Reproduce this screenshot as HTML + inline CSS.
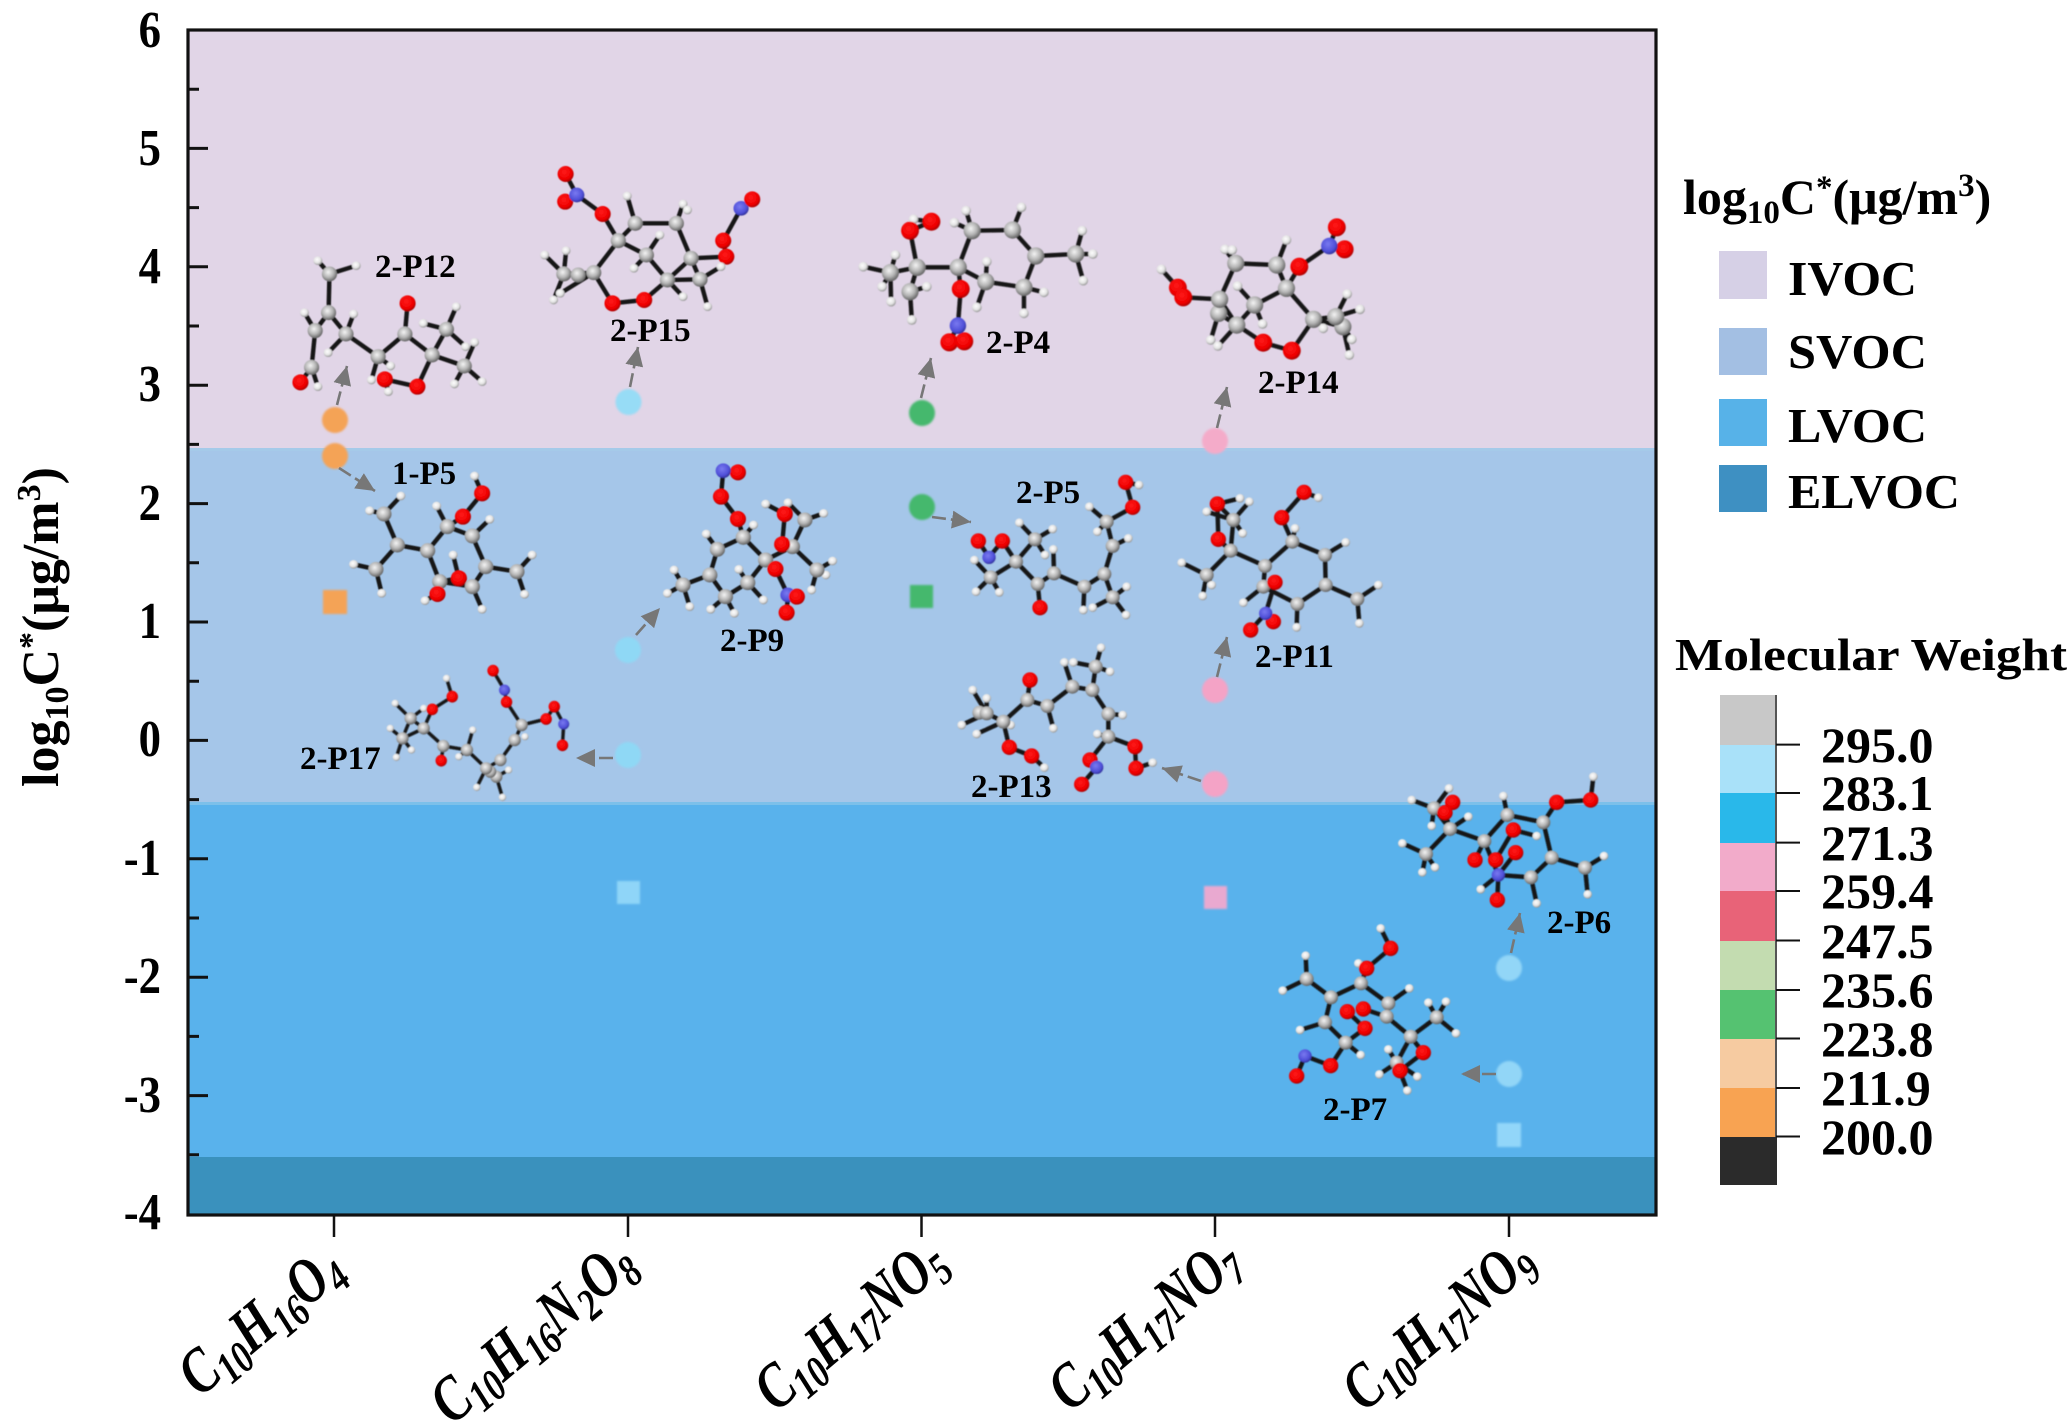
<!DOCTYPE html>
<html><head><meta charset="utf-8"><title>log10C* diagram</title>
<style>
html,body{margin:0;padding:0;background:#fff}
svg{display:block}
text{font-family:"Liberation Serif",serif;font-weight:bold;fill:#000}
.bd{fill:none;stroke:#151515;stroke-width:4.4;stroke-linecap:round;vector-effect:non-scaling-stroke}
.C{fill:url(#gC)}.H{fill:url(#gH)}.O{fill:url(#gO)}.N{fill:url(#gN)}
.a .C{rx:17px;ry:22.5px}.a .O{rx:18px;ry:24px}.a .H{rx:10px;ry:13px}.a .N{rx:17px;ry:22px}
.b .C{rx:24px;ry:26px}.b .O{rx:25px;ry:27px}.b .H{rx:13.5px;ry:14.5px}.b .N{rx:23px;ry:25px}
.c .C{rx:21px;ry:21px}.c .O{rx:23px;ry:23px}.c .H{rx:13px;ry:13px}.c .N{rx:20px;ry:20px}
.d .C{rx:15px;ry:18.5px}.d .O{rx:14px;ry:17.5px}.d .H{rx:9px;ry:11px}.d .N{rx:13.5px;ry:16.5px}
.d .bd{stroke-width:3.4}
.lb{font-size:33px}
.ar{stroke:#777;stroke-width:2.6;stroke-dasharray:14 5;fill:none;marker-end:url(#ah)}
.yt{font-size:52px;text-anchor:end}
.cb{font-size:50px}
.lg{font-size:49px}
.xl{font-size:50px;font-style:italic}
</style></head><body>
<svg xmlns="http://www.w3.org/2000/svg" width="2067" height="1425" viewBox="0 0 2067 1425">
<defs>
<radialGradient id="gC" cx=".42" cy=".38" r=".65"><stop offset="0" stop-color="#f4f4f4"/><stop offset=".55" stop-color="#b4b4b4"/><stop offset="1" stop-color="#5c5c5c"/></radialGradient>
<radialGradient id="gH" cx=".42" cy=".38" r=".65"><stop offset="0" stop-color="#fff"/><stop offset=".6" stop-color="#e2e2e2"/><stop offset="1" stop-color="#8a8a8a"/></radialGradient>
<radialGradient id="gO" cx=".42" cy=".38" r=".65"><stop offset="0" stop-color="#ff1a1a"/><stop offset=".7" stop-color="#ee0000"/><stop offset="1" stop-color="#a00000"/></radialGradient>
<radialGradient id="gN" cx=".42" cy=".38" r=".65"><stop offset="0" stop-color="#7a7af0"/><stop offset=".7" stop-color="#4f4fd8"/><stop offset="1" stop-color="#2d2d90"/></radialGradient>
<marker id="ah" markerUnits="userSpaceOnUse" markerWidth="20" markerHeight="18" refX="19" refY="9" orient="auto"><path d="M0 0L19 9L0 18z" fill="#777"/></marker>
<filter id="bl" x="-30%" y="-30%" width="160%" height="160%"><feGaussianBlur stdDeviation="1"/></filter>
<filter id="bl2" filterUnits="userSpaceOnUse" x="188" y="30" width="1468" height="1185"><feGaussianBlur stdDeviation=".55"/></filter>
</defs>

<!-- plot bands -->
<rect x="188" y="30" width="1468" height="418" fill="#e1d5e7"/>
<rect x="188" y="448" width="1468" height="355" fill="#a5c6e9"/>
<rect x="188" y="803" width="1468" height="354" fill="#59b2ec"/>
<rect x="188" y="1157" width="1468" height="58" fill="#3a91bd"/>
<rect x="188" y="448" width="1468" height="3" fill="#a5cdea" opacity=".6"/>
<rect x="188" y="802" width="1468" height="3" fill="#7cc0ea"/>

<!-- ticks -->
<path d="M188 30h20M188 148.400h20M188 266.800h20M188 385.200h20M188 503.600h20M188 622h20M188 740.400h20M188 858.800h20M188 977.200h20M188 1095.600h20M188 89.200h11M188 207.600h11M188 326h11M188 444.400h11M188 562.800h11M188 681.200h11M188 799.600h11M188 918h11M188 1036.400h11M188 1154.800h11" stroke="#111" stroke-width="3" fill="none"/>
<path d="M334 1215v22M628 1215v22M921.500 1215v22M1215 1215v22M1509 1215v22" stroke="#111" stroke-width="2.500" fill="none"/>
<rect x="188" y="30" width="1468" height="1185" fill="none" stroke="#111" stroke-width="3.200"/>

<!-- y tick labels -->
<text class="yt" transform="translate(161,47) scale(.86,1)">6</text>
<text class="yt" transform="translate(161,165) scale(.86,1)">5</text>
<text class="yt" transform="translate(161,283) scale(.86,1)">4</text>
<text class="yt" transform="translate(161,401) scale(.86,1)">3</text>
<text class="yt" transform="translate(161,520) scale(.86,1)">2</text>
<text class="yt" transform="translate(161,638) scale(.86,1)">1</text>
<text class="yt" transform="translate(161,756) scale(.86,1)">0</text>
<text class="yt" transform="translate(161,875) scale(.86,1)">-1</text>
<text class="yt" transform="translate(161,993) scale(.86,1)">-2</text>
<text class="yt" transform="translate(161,1112) scale(.86,1)">-3</text>
<text class="yt" transform="translate(161,1229) scale(.86,1)">-4</text>

<!-- y axis title -->
<text transform="translate(58,787) rotate(-90)" font-size="52">log<tspan font-size="34" dy="10">10</tspan><tspan dy="-10">C</tspan><tspan font-size="34" dy="-16">*</tspan><tspan dy="16">(μg/m</tspan><tspan font-size="34" dy="-18">3</tspan><tspan dy="18">)</tspan></text>

<!-- x labels -->
<text class="xl" transform="translate(200,1398) rotate(-40) scale(.98,1.28)">C<tspan font-size="35" dy="8">10</tspan><tspan dy="-8">H</tspan><tspan font-size="35" dy="8">16</tspan><tspan dy="-8">O</tspan><tspan font-size="35" dy="8">4</tspan></text>
<text class="xl" transform="translate(452,1426) rotate(-40) scale(.98,1.28)">C<tspan font-size="35" dy="8">10</tspan><tspan dy="-8">H</tspan><tspan font-size="35" dy="8">16</tspan><tspan dy="-8">N</tspan><tspan font-size="35" dy="8">2</tspan><tspan dy="-8">O</tspan><tspan font-size="35" dy="8">8</tspan></text>
<text class="xl" transform="translate(776,1413) rotate(-40) scale(.98,1.28)">C<tspan font-size="35" dy="8">10</tspan><tspan dy="-8">H</tspan><tspan font-size="35" dy="8">17</tspan><tspan dy="-8">NO</tspan><tspan font-size="35" dy="8">5</tspan></text>
<text class="xl" transform="translate(1070,1413) rotate(-40) scale(.98,1.28)">C<tspan font-size="35" dy="8">10</tspan><tspan dy="-8">H</tspan><tspan font-size="35" dy="8">17</tspan><tspan dy="-8">NO</tspan><tspan font-size="35" dy="8">7</tspan></text>
<text class="xl" transform="translate(1364,1413) rotate(-40) scale(.98,1.28)">C<tspan font-size="35" dy="8">10</tspan><tspan dy="-8">H</tspan><tspan font-size="35" dy="8">17</tspan><tspan dy="-8">NO</tspan><tspan font-size="35" dy="8">9</tspan></text>

<!-- markers -->
<g filter="url(#bl)">
<circle cx="335" cy="420" r="13" fill="#f4a356"/>
<circle cx="335" cy="456" r="13" fill="#f4a356"/>
<rect x="323" y="590" width="24" height="24" fill="#f4a356"/>
<circle cx="628.500" cy="402" r="13" fill="#97dcf6"/>
<circle cx="628" cy="650" r="13" fill="#8fd8f5"/>
<circle cx="628" cy="755" r="13" fill="#8fd8f5"/>
<rect x="617" y="881" width="23" height="23" fill="#8fd5f8"/>
<circle cx="922" cy="413" r="13" fill="#44b86d"/>
<circle cx="922" cy="507" r="13" fill="#44b86d"/>
<rect x="910" y="585" width="23" height="23" fill="#44b86d"/>
<circle cx="1215" cy="441" r="13" fill="#f4abc9"/>
<circle cx="1215" cy="690" r="13" fill="#f4a3c6"/>
<circle cx="1215" cy="784" r="13" fill="#f4a3c6"/>
<rect x="1204" y="886" width="23" height="23" fill="#e9a9d0"/>
<circle cx="1509" cy="968" r="13" fill="#92d6f7"/>
<circle cx="1509" cy="1074" r="13" fill="#92d6f7"/>
<rect x="1497" y="1123" width="24" height="24" fill="#92d6f9"/>
</g>

<!-- arrows -->
<line class="ar" x1="337" y1="405" x2="347" y2="366"/>
<line class="ar" x1="630" y1="387" x2="638" y2="347"/>
<line class="ar" x1="921" y1="398" x2="931" y2="358"/>
<line class="ar" x1="1217" y1="428" x2="1227" y2="387"/>
<line class="ar" x1="339" y1="468" x2="375" y2="491"/>
<line class="ar" x1="932" y1="517" x2="971" y2="522"/>
<line class="ar" x1="636" y1="635" x2="660" y2="608"/>
<line class="ar" x1="613" y1="758" x2="576" y2="758"/>
<line class="ar" x1="1201" y1="781" x2="1162" y2="768"/>
<line class="ar" x1="1217" y1="677" x2="1227" y2="637"/>
<line class="ar" x1="1511" y1="953" x2="1520" y2="913"/>
<line class="ar" x1="1496" y1="1074" x2="1461" y2="1074"/>

<g filter="url(#bl2)">
<!-- zoom-a molecules -->
<g class="a" transform="translate(250,130) scale(.44643,.33333)">
<!-- 2-P12 -->
<path class="bd" d="M152 392L178 432L238 407M178 432L176 548L146 602L138 712L113 757M146 602L122 548M176 548L215 612L287 680L347 612L408 675L480 708L520 755M215 612L232 552M215 612L175 668M138 712L152 770M287 680L315 708M287 680L272 750M347 612L353 520M408 675L440 598L462 530M440 598L388 580M440 598L483 650M480 708L503 637M480 708L458 762M408 675L375 770L302 748L310 785"/>
<ellipse class=H cx=152 cy=392 /><ellipse class=H cx=238 cy=407 /><ellipse class=C cx=178 cy=432 /><ellipse class=C cx=176 cy=548 /><ellipse class=H cx=122 cy=548 /><ellipse class=H cx=232 cy=552 /><ellipse class=C cx=146 cy=602 /><ellipse class=C cx=215 cy=612 /><ellipse class=H cx=175 cy=668 /><ellipse class=C cx=138 cy=712 /><ellipse class=H cx=152 cy=770 /><ellipse class=O cx=113 cy=757 /><ellipse class=C cx=287 cy=680 /><ellipse class=H cx=315 cy=708 /><ellipse class=H cx=272 cy=750 /><ellipse class=C cx=347 cy=612 /><ellipse class=O cx=353 cy=520 /><ellipse class=C cx=408 cy=675 /><ellipse class=C cx=440 cy=598 /><ellipse class=H cx=462 cy=530 /><ellipse class=H cx=388 cy=580 /><ellipse class=H cx=483 cy=650 /><ellipse class=C cx=480 cy=708 /><ellipse class=H cx=503 cy=637 /><ellipse class=H cx=520 cy=755 /><ellipse class=H cx=458 cy=762 /><ellipse class=O cx=375 cy=770 /><ellipse class=H cx=310 cy=785 /><ellipse class=O cx=302 cy=748 />
<!-- 2-P15 -->
<path class="bd" d="M707 132L732 195L706 215M732 195L790 252L825 332L863 280L955 280L988 385L935 450L883 510L812 520L770 428L825 332M863 280L845 198M955 280L970 222M825 332L888 375L935 450M888 375L918 315M888 375L860 415M988 385L1067 380M1060 332L1067 380M1060 332L1100 235L1125 208M988 385L1008 448L935 450M1008 448L1055 410M1008 448L1025 530M935 450L970 500M770 428L703 432L660 375M703 432L708 362M703 432L680 510M770 428L695 490"/>
<ellipse class=O cx=707 cy=132 /><ellipse class=O cx=706 cy=215 /><ellipse class=N cx=732 cy=195 /><ellipse class=O cx=790 cy=252 /><ellipse class=H cx=845 cy=198 /><ellipse class=H cx=970 cy=222 /><ellipse class=H cx=980 cy=240 /><ellipse class=C cx=825 cy=332 /><ellipse class=C cx=863 cy=280 /><ellipse class=C cx=955 cy=280 /><ellipse class=H cx=918 cy=315 /><ellipse class=H cx=860 cy=415 /><ellipse class=C cx=888 cy=375 /><ellipse class=C cx=988 cy=385 /><ellipse class=O cx=1067 cy=380 /><ellipse class=O cx=1060 cy=332 /><ellipse class=N cx=1100 cy=235 /><ellipse class=O cx=1125 cy=208 /><ellipse class=H cx=1055 cy=410 /><ellipse class=H cx=1025 cy=530 /><ellipse class=H cx=970 cy=500 /><ellipse class=C cx=935 cy=450 /><ellipse class=C cx=1008 cy=448 /><ellipse class=O cx=883 cy=510 /><ellipse class=O cx=812 cy=520 /><ellipse class=H cx=660 cy=375 /><ellipse class=H cx=708 cy=362 /><ellipse class=H cx=680 cy=510 /><ellipse class=H cx=695 cy=490 /><ellipse class=C cx=703 cy=432 /><ellipse class=C cx=735 cy=435 /><ellipse class=C cx=770 cy=428 />
<!-- 1-P5 -->
<path class="bd" d="M338 1098L300 1152L268 1142M300 1152L330 1245L398 1262L442 1190L498 1218L528 1310L498 1370L425 1355L398 1262M330 1245L282 1318L232 1303M282 1318L295 1390M442 1190L418 1128M442 1190L477 1160L520 1090L503 1038M498 1218L537 1168M528 1310L598 1325L632 1275M598 1325L615 1393M498 1370L520 1438M468 1345L455 1275M468 1345L425 1355M425 1355L420 1392L392 1412"/>
<ellipse class=H cx=338 cy=1098 /><ellipse class=H cx=268 cy=1142 /><ellipse class=C cx=300 cy=1152 /><ellipse class=C cx=330 cy=1245 /><ellipse class=C cx=398 cy=1262 /><ellipse class=H cx=418 cy=1128 /><ellipse class=C cx=442 cy=1190 /><ellipse class=O cx=477 cy=1160 /><ellipse class=O cx=520 cy=1090 /><ellipse class=H cx=503 cy=1038 /><ellipse class=H cx=537 cy=1168 /><ellipse class=C cx=498 cy=1218 /><ellipse class=C cx=528 cy=1310 /><ellipse class=H cx=632 cy=1275 /><ellipse class=H cx=615 cy=1393 /><ellipse class=C cx=598 cy=1325 /><ellipse class=H cx=520 cy=1438 /><ellipse class=C cx=498 cy=1370 /><ellipse class=H cx=455 cy=1275 /><ellipse class=C cx=425 cy=1355 /><ellipse class=O cx=468 cy=1345 /><ellipse class=H cx=392 cy=1412 /><ellipse class=O cx=420 cy=1392 /><ellipse class=H cx=232 cy=1303 /><ellipse class=H cx=295 cy=1390 /><ellipse class=C cx=282 cy=1318 />
<!-- 2-P9 -->
<path class="bd" d="M1093 1027L1060 1022L1055 1100L1093 1167L1105 1222L1128 1185M1105 1222L1047 1258L1022 1212M1047 1258L1030 1335L970 1365L950 1320M970 1365L935 1390M970 1365L985 1430M1030 1335L1065 1400L1032 1438M1065 1400L1085 1450M1065 1400L1115 1358L1095 1318M1115 1358L1150 1410M1115 1358L1155 1290L1105 1222M1155 1290L1177 1317L1205 1395L1225 1400M1205 1395L1202 1448M1155 1290L1215 1250L1243 1170L1205 1118M1243 1170L1285 1150M1215 1250L1192 1243L1198 1152L1155 1122M1215 1250L1270 1320L1305 1293M1270 1320L1290 1335M1270 1320L1258 1380"/>
<ellipse class=O cx=1093 cy=1027 /><ellipse class=N cx=1060 cy=1022 /><ellipse class=O cx=1055 cy=1100 /><ellipse class=O cx=1093 cy=1167 /><ellipse class=H cx=1128 cy=1185 /><ellipse class=C cx=1105 cy=1222 /><ellipse class=H cx=1022 cy=1212 /><ellipse class=C cx=1047 cy=1258 /><ellipse class=C cx=1030 cy=1335 /><ellipse class=H cx=950 cy=1320 /><ellipse class=H cx=935 cy=1390 /><ellipse class=H cx=985 cy=1430 /><ellipse class=C cx=970 cy=1365 /><ellipse class=H cx=1032 cy=1438 /><ellipse class=H cx=1085 cy=1450 /><ellipse class=C cx=1065 cy=1400 /><ellipse class=H cx=1095 cy=1318 /><ellipse class=H cx=1150 cy=1410 /><ellipse class=C cx=1115 cy=1358 /><ellipse class=C cx=1155 cy=1290 /><ellipse class=O cx=1177 cy=1317 /><ellipse class=N cx=1205 cy=1395 /><ellipse class=O cx=1225 cy=1400 /><ellipse class=O cx=1202 cy=1448 /><ellipse class=H cx=1155 cy=1122 /><ellipse class=H cx=1205 cy=1118 /><ellipse class=H cx=1285 cy=1150 /><ellipse class=C cx=1243 cy=1170 /><ellipse class=C cx=1215 cy=1250 /><ellipse class=O cx=1192 cy=1243 /><ellipse class=O cx=1198 cy=1152 /><ellipse class=H cx=1305 cy=1293 /><ellipse class=H cx=1290 cy=1335 /><ellipse class=H cx=1258 cy=1380 /><ellipse class=C cx=1270 cy=1320 />
</g>

<!-- zoom-b molecules -->
<g class="b" transform="translate(850,180) scale(.35714,.33333)">
<!-- 2-P4 -->
<path class="bd" d="M228 125L178 118L168 152M228 125L168 152M168 152L188 262L303 262L342 152L455 150L520 228L487 322L380 305L303 262M188 262L113 278L37 260M113 278L127 225M113 278L90 320M113 278L115 365M188 262L168 335L215 320M168 335L173 420M342 152L325 92M342 152L292 128M455 150L480 82M520 228L632 222L650 152M632 222L680 222M632 222L653 302M487 322L543 337M487 322L487 400M380 305L383 245M380 305L355 382M303 262L310 327L302 437L278 487M302 437L320 484"/>
<ellipse class=H cx=178 cy=118 /><ellipse class=O cx=228 cy=125 /><ellipse class=O cx=168 cy=152 /><ellipse class=H cx=37 cy=260 /><ellipse class=H cx=127 cy=225 /><ellipse class=H cx=90 cy=320 /><ellipse class=H cx=115 cy=365 /><ellipse class=H cx=215 cy=320 /><ellipse class=H cx=173 cy=420 /><ellipse class=C cx=113 cy=278 /><ellipse class=C cx=168 cy=335 /><ellipse class=C cx=188 cy=262 /><ellipse class=C cx=303 cy=262 /><ellipse class=H cx=325 cy=92 /><ellipse class=H cx=292 cy=128 /><ellipse class=C cx=342 cy=152 /><ellipse class=H cx=480 cy=82 /><ellipse class=C cx=455 cy=150 /><ellipse class=C cx=520 cy=228 /><ellipse class=H cx=650 cy=152 /><ellipse class=H cx=680 cy=222 /><ellipse class=H cx=653 cy=302 /><ellipse class=C cx=632 cy=222 /><ellipse class=H cx=543 cy=337 /><ellipse class=H cx=487 cy=400 /><ellipse class=C cx=487 cy=322 /><ellipse class=H cx=383 cy=245 /><ellipse class=H cx=355 cy=382 /><ellipse class=C cx=380 cy=305 /><ellipse class=O cx=310 cy=327 /><ellipse class=O cx=278 cy=487 /><ellipse class=O cx=320 cy=484 /><ellipse class=N cx=302 cy=437 />
<!-- 2-P14 -->
<path class="bd" d="M872 268L918 323L933 352L1035 358L1080 250L1195 255L1222 325L1133 375L1083 435L1157 488L1237 512L1298 418L1222 325M1080 250L1050 208M1195 255L1222 180M1222 325L1258 260L1342 198L1363 142M1342 198L1385 208M1133 375L1085 318M1133 375L1155 432M1035 358L1032 400L1010 480M1032 400L1083 435M1083 435L1030 498M1035 358L1083 435M1298 418L1360 410L1392 342M1360 410L1428 388M1298 418L1380 440L1405 478M1380 440L1398 525"/>
<ellipse class=H cx=872 cy=268 /><ellipse class=O cx=918 cy=323 /><ellipse class=O cx=933 cy=352 /><ellipse class=H cx=1050 cy=208 /><ellipse class=H cx=1070 cy=210 /><ellipse class=C cx=1080 cy=250 /><ellipse class=H cx=1222 cy=180 /><ellipse class=C cx=1195 cy=255 /><ellipse class=C cx=1222 cy=325 /><ellipse class=O cx=1258 cy=260 /><ellipse class=O cx=1363 cy=142 /><ellipse class=O cx=1385 cy=208 /><ellipse class=N cx=1342 cy=198 /><ellipse class=H cx=1085 cy=318 /><ellipse class=H cx=1155 cy=432 /><ellipse class=C cx=1133 cy=375 /><ellipse class=H cx=1010 cy=480 /><ellipse class=H cx=1030 cy=498 /><ellipse class=C cx=1032 cy=400 /><ellipse class=C cx=1035 cy=358 /><ellipse class=C cx=1083 cy=435 /><ellipse class=O cx=1157 cy=488 /><ellipse class=O cx=1237 cy=512 /><ellipse class=H cx=1392 cy=342 /><ellipse class=H cx=1428 cy=388 /><ellipse class=H cx=1405 cy=478 /><ellipse class=H cx=1398 cy=525 /><ellipse class=H cx=1325 cy=445 /><ellipse class=C cx=1380 cy=440 /><ellipse class=C cx=1360 cy=410 /><ellipse class=C cx=1298 cy=418 />
</g>

<!-- zoom-7 molecules -->
<g class="c" transform="translate(940,460) scale(.33333)">
<!-- 2-P5 -->
<path class="bd" d="M115 243L147 292L187 243L228 305L285 238L238 188M285 238L338 207M285 238L315 285M228 305L152 352L103 300M152 352L108 395M152 352L178 397M228 305L293 372L300 443M293 372L342 340L340 268M342 340L433 380L430 450M433 380L493 342L518 258L500 185L448 140M518 258L565 235M500 185L472 215M500 185L578 142L557 67L597 75M493 342L518 412L560 380M518 412L558 465M518 412L458 443"/>
<ellipse class=O cx=115 cy=243 /><ellipse class=O cx=187 cy=243 /><ellipse class=N cx=147 cy=292 /><ellipse class=H cx=103 cy=300 /><ellipse class=H cx=238 cy=188 /><ellipse class=H cx=338 cy=207 /><ellipse class=H cx=315 cy=285 /><ellipse class=C cx=285 cy=238 /><ellipse class=C cx=228 cy=305 /><ellipse class=H cx=108 cy=395 /><ellipse class=H cx=178 cy=397 /><ellipse class=C cx=152 cy=352 /><ellipse class=O cx=300 cy=443 /><ellipse class=C cx=293 cy=372 /><ellipse class=H cx=340 cy=268 /><ellipse class=C cx=342 cy=340 /><ellipse class=H cx=430 cy=450 /><ellipse class=C cx=433 cy=380 /><ellipse class=H cx=565 cy=235 /><ellipse class=C cx=518 cy=258 /><ellipse class=H cx=448 cy=140 /><ellipse class=H cx=472 cy=215 /><ellipse class=C cx=500 cy=185 /><ellipse class=H cx=597 cy=75 /><ellipse class=O cx=578 cy=142 /><ellipse class=O cx=557 cy=67 /><ellipse class=H cx=560 cy=380 /><ellipse class=H cx=558 cy=465 /><ellipse class=H cx=458 cy=443 /><ellipse class=C cx=518 cy=412 /><ellipse class=C cx=493 cy=342 />
<!-- 2-P11 -->
<path class="bd" d="M832 132L900 115M832 132L835 238M832 132L880 180L928 125M880 180L800 155M880 180L908 220M880 180L872 272M835 238L872 272L800 345L725 308M800 345L815 375M800 345L788 408M872 272L975 318L1057 245L1155 285L1157 375L1072 432L970 380L975 318M1057 245L1065 205M1057 245L1025 173L1092 97L1135 113M1155 285L1217 247M1157 375L1252 417L1315 375M1252 417L1258 490M1072 432L1070 502M970 380L910 428M1005 367L977 460L1000 485M977 460L932 510"/>
<ellipse class=H cx=900 cy=115 /><ellipse class=H cx=928 cy=125 /><ellipse class=H cx=800 cy=155 /><ellipse class=H cx=908 cy=220 /><ellipse class=C cx=880 cy=180 /><ellipse class=O cx=832 cy=132 /><ellipse class=O cx=835 cy=238 /><ellipse class=C cx=872 cy=272 /><ellipse class=H cx=725 cy=308 /><ellipse class=H cx=815 cy=375 /><ellipse class=H cx=788 cy=408 /><ellipse class=C cx=800 cy=345 /><ellipse class=C cx=975 cy=318 /><ellipse class=H cx=1065 cy=205 /><ellipse class=C cx=1057 cy=245 /><ellipse class=O cx=1025 cy=173 /><ellipse class=H cx=1135 cy=113 /><ellipse class=O cx=1092 cy=97 /><ellipse class=H cx=1217 cy=247 /><ellipse class=C cx=1155 cy=285 /><ellipse class=H cx=1315 cy=375 /><ellipse class=H cx=1258 cy=490 /><ellipse class=C cx=1252 cy=417 /><ellipse class=C cx=1157 cy=375 /><ellipse class=H cx=1070 cy=502 /><ellipse class=C cx=1072 cy=432 /><ellipse class=H cx=910 cy=428 /><ellipse class=C cx=970 cy=380 /><ellipse class=O cx=1005 cy=367 /><ellipse class=O cx=1000 cy=485 /><ellipse class=O cx=932 cy=510 /><ellipse class=N cx=977 cy=460 />
<!-- 2-P13 -->
<path class="bd" d="M483 563L467 620L400 607M467 620L510 635M467 620L457 690L397 680L373 607M397 680L322 738L262 720L190 785L140 760L98 690M140 760L65 795M140 760L140 715M190 785L110 822M190 785L212 795M262 720L270 660M322 738L340 805M457 690L505 762L548 765M505 762L505 830L472 822M505 830L585 860L588 925L638 908M505 830L450 900L470 922L425 973M190 785L208 862L275 888L313 923"/>
<ellipse class=H cx=483 cy=563 /><ellipse class=H cx=400 cy=607 /><ellipse class=H cx=510 cy=635 /><ellipse class=C cx=467 cy=620 /><ellipse class=H cx=373 cy=607 /><ellipse class=C cx=397 cy=680 /><ellipse class=C cx=457 cy=690 /><ellipse class=H cx=548 cy=765 /><ellipse class=C cx=505 cy=762 /><ellipse class=H cx=472 cy=822 /><ellipse class=C cx=505 cy=830 /><ellipse class=H cx=638 cy=908 /><ellipse class=O cx=585 cy=860 /><ellipse class=O cx=588 cy=925 /><ellipse class=O cx=450 cy=900 /><ellipse class=N cx=470 cy=922 /><ellipse class=O cx=425 cy=973 /><ellipse class=H cx=340 cy=805 /><ellipse class=C cx=322 cy=738 /><ellipse class=O cx=270 cy=660 /><ellipse class=C cx=262 cy=720 /><ellipse class=H cx=98 cy=690 /><ellipse class=H cx=140 cy=715 /><ellipse class=H cx=65 cy=795 /><ellipse class=H cx=110 cy=822 /><ellipse class=H cx=212 cy=795 /><ellipse class=C cx=118 cy=758 /><ellipse class=C cx=140 cy=760 /><ellipse class=C cx=190 cy=785 /><ellipse class=H cx=313 cy=923 /><ellipse class=O cx=208 cy=862 /><ellipse class=O cx=275 cy=888 />
</g>

<!-- zoom-4 molecules -->
<g class="c" transform="translate(1250,760) scale(.33333)">
<!-- 2-P6 -->
<path class="bd" d="M485 120L552 145L597 85M552 145L545 198M552 145L600 207L528 282L457 250M528 282L517 337M528 282L555 322M585 158L608 127M585 158L600 207M600 207L655 170M600 207L703 243L772 165L880 187L905 293L843 352L745 345M772 165L760 108M880 187L920 127L1022 120L1030 50M905 293L1005 323L1062 288M1005 323L1013 403M843 352L860 430M703 243L675 300M703 243L745 345L692 388M745 345L742 420M745 345L797 278M737 300L790 210L860 228"/>
<ellipse class=H cx=485 cy=120 /><ellipse class=H cx=597 cy=85 /><ellipse class=H cx=545 cy=198 /><ellipse class=C cx=552 cy=145 /><ellipse class=H cx=655 cy=170 /><ellipse class=O cx=608 cy=127 /><ellipse class=O cx=585 cy=158 /><ellipse class=C cx=600 cy=207 /><ellipse class=H cx=457 cy=250 /><ellipse class=H cx=517 cy=337 /><ellipse class=H cx=555 cy=322 /><ellipse class=C cx=528 cy=282 /><ellipse class=C cx=703 cy=243 /><ellipse class=H cx=760 cy=108 /><ellipse class=C cx=772 cy=165 /><ellipse class=C cx=880 cy=187 /><ellipse class=H cx=1030 cy=50 /><ellipse class=O cx=920 cy=127 /><ellipse class=O cx=1022 cy=120 /><ellipse class=H cx=1062 cy=288 /><ellipse class=H cx=1013 cy=403 /><ellipse class=C cx=1005 cy=323 /><ellipse class=C cx=905 cy=293 /><ellipse class=H cx=860 cy=430 /><ellipse class=C cx=843 cy=352 /><ellipse class=H cx=692 cy=388 /><ellipse class=O cx=742 cy=420 /><ellipse class=N cx=745 cy=345 /><ellipse class=O cx=675 cy=300 /><ellipse class=O cx=797 cy=278 /><ellipse class=H cx=860 cy=228 /><ellipse class=O cx=790 cy=210 /><ellipse class=O cx=737 cy=300 />
<!-- 2-P7 -->
<path class="bd" d="M392 505L422 565L350 625L333 670L243 712L170 657L167 587M170 657L98 692M243 712L225 787L150 810M225 787L287 848L332 885M287 848L345 805L292 755M333 670L415 730L478 685M415 730L410 770L340 747M410 770L482 830L560 772L535 728M560 772L588 725M560 772L618 820M482 830L440 908L415 868M440 908L388 943M440 908L502 950M440 908L472 992M482 830L520 878L450 932M287 848L242 917L165 888L140 948"/>
<ellipse class=H cx=392 cy=505 /><ellipse class=O cx=422 cy=565 /><ellipse class=H cx=325 cy=610 /><ellipse class=C cx=333 cy=670 /><ellipse class=O cx=350 cy=625 /><ellipse class=C cx=243 cy=712 /><ellipse class=H cx=167 cy=587 /><ellipse class=H cx=98 cy=692 /><ellipse class=C cx=170 cy=657 /><ellipse class=H cx=150 cy=810 /><ellipse class=C cx=225 cy=787 /><ellipse class=H cx=332 cy=885 /><ellipse class=C cx=287 cy=848 /><ellipse class=O cx=345 cy=805 /><ellipse class=O cx=292 cy=755 /><ellipse class=H cx=478 cy=685 /><ellipse class=C cx=415 cy=730 /><ellipse class=C cx=410 cy=770 /><ellipse class=O cx=340 cy=747 /><ellipse class=H cx=535 cy=728 /><ellipse class=H cx=588 cy=725 /><ellipse class=H cx=618 cy=820 /><ellipse class=C cx=560 cy=772 /><ellipse class=C cx=482 cy=830 /><ellipse class=O cx=520 cy=878 /><ellipse class=H cx=415 cy=868 /><ellipse class=H cx=388 cy=943 /><ellipse class=H cx=502 cy=950 /><ellipse class=H cx=472 cy=992 /><ellipse class=C cx=440 cy=908 /><ellipse class=O cx=450 cy=932 /><ellipse class=O cx=242 cy=917 /><ellipse class=O cx=140 cy=948 /><ellipse class=N cx=165 cy=888 />
</g>

<!-- zoom-6 molecule 2-P17 -->
<g class="d" transform="translate(280,640) scale(.40816,.33333)">
<path class="bd" d="M408 115L422 170L373 208L352 265L320 235L282 190M320 235L352 205M320 235L300 295L270 265M300 295L285 352M300 295L322 330M352 265L300 295M352 265L400 318L395 362M400 318L458 330L472 270M458 330L438 350M458 330L505 385L540 360L575 300L592 255L555 186L550 150L522 92M592 255L652 237L672 200L695 252L692 316M505 385L530 410L545 472M505 385L482 442M530 410L560 390"/>
<ellipse class=H cx=408 cy=115 /><ellipse class=O cx=422 cy=170 /><ellipse class=H cx=282 cy=190 /><ellipse class=H cx=352 cy=205 /><ellipse class=C cx=320 cy=235 /><ellipse class=O cx=373 cy=208 /><ellipse class=H cx=270 cy=265 /><ellipse class=H cx=285 cy=352 /><ellipse class=H cx=322 cy=330 /><ellipse class=C cx=300 cy=295 /><ellipse class=C cx=352 cy=265 /><ellipse class=O cx=395 cy=362 /><ellipse class=C cx=400 cy=318 /><ellipse class=H cx=472 cy=270 /><ellipse class=H cx=438 cy=350 /><ellipse class=C cx=458 cy=330 /><ellipse class=H cx=560 cy=390 /><ellipse class=H cx=482 cy=442 /><ellipse class=H cx=545 cy=472 /><ellipse class=C cx=530 cy=410 /><ellipse class=C cx=515 cy=395 /><ellipse class=C cx=505 cy=385 /><ellipse class=C cx=540 cy=360 /><ellipse class=H cx=600 cy=290 /><ellipse class=C cx=575 cy=300 /><ellipse class=C cx=592 cy=255 /><ellipse class=O cx=555 cy=186 /><ellipse class=N cx=550 cy=150 /><ellipse class=O cx=522 cy=92 /><ellipse class=O cx=652 cy=237 /><ellipse class=O cx=672 cy=200 /><ellipse class=N cx=695 cy=252 /><ellipse class=O cx=692 cy=316 />
</g>
</g>

<!-- molecule labels -->
<text class="lb" x="375" y="277">2-P12</text>
<text class="lb" x="610" y="341">2-P15</text>
<text class="lb" x="392" y="484">1-P5</text>
<text class="lb" x="720" y="651">2-P9</text>
<text class="lb" x="986" y="353">2-P4</text>
<text class="lb" x="1258" y="393">2-P14</text>
<text class="lb" x="1016" y="503">2-P5</text>
<text class="lb" x="1255" y="667">2-P11</text>
<text class="lb" x="971" y="797">2-P13</text>
<text class="lb" x="300" y="769">2-P17</text>
<text class="lb" x="1547" y="933">2-P6</text>
<text class="lb" x="1323" y="1120">2-P7</text>

<!-- concentration legend -->
<text x="1683" y="214" font-size="50">log<tspan font-size="33" dy="9">10</tspan><tspan dy="-9">C</tspan><tspan font-size="33" dy="-16">*</tspan><tspan dy="16">(μg/m</tspan><tspan font-size="33" dy="-18">3</tspan><tspan dy="18">)</tspan></text>
<rect x="1719" y="251" width="48" height="48" fill="#d6d0e6"/>
<rect x="1719" y="328" width="48" height="47" fill="#a3bfe3"/>
<rect x="1719" y="399" width="48" height="47" fill="#57b2e8"/>
<rect x="1719" y="465" width="48" height="47" fill="#3e90c2"/>
<text class="lg" x="1788" y="295" textLength="129" lengthAdjust="spacingAndGlyphs">IVOC</text>
<text class="lg" x="1788" y="368" textLength="139" lengthAdjust="spacingAndGlyphs">SVOC</text>
<text class="lg" x="1788" y="442" textLength="139" lengthAdjust="spacingAndGlyphs">LVOC</text>
<text class="lg" x="1788" y="508" textLength="172" lengthAdjust="spacingAndGlyphs">ELVOC</text>

<!-- molecular weight legend -->
<text x="1675" y="670" font-size="46" textLength="392" lengthAdjust="spacingAndGlyphs">Molecular Weight</text>
<rect x="1720" y="695" width="56" height="50" fill="#c8c8c8"/>
<rect x="1720" y="745" width="56" height="48" fill="#a9e1f9"/>
<rect x="1720" y="793" width="56" height="50" fill="#29b8ea"/>
<rect x="1720" y="843" width="56" height="48" fill="#f2abca"/>
<rect x="1720" y="891" width="56" height="50" fill="#e86378"/>
<rect x="1720" y="941" width="56" height="49" fill="#c3dcb0"/>
<rect x="1720" y="990" width="56" height="49" fill="#55c271"/>
<rect x="1720" y="1039" width="56" height="49" fill="#f6cba1"/>
<rect x="1720" y="1088" width="56" height="49" fill="#f8a352"/>
<rect x="1720" y="1137" width="57" height="48" fill="#2b2b2b"/>
<path d="M1776 695V1137" stroke="#555" stroke-width="2" fill="none"/>
<path d="M1776 744.600H1800M1776 793H1800M1776 842.600H1800M1776 891H1800M1776 940.500H1800M1776 990H1800M1776 1038.500H1800M1776 1088H1800M1776 1136.500H1800" stroke="#111" stroke-width="2" fill="none"/>
<text class="cb" x="1821" y="762">295.0</text>
<text class="cb" x="1821" y="810">283.1</text>
<text class="cb" x="1821" y="860">271.3</text>
<text class="cb" x="1821" y="908">259.4</text>
<text class="cb" x="1821" y="958">247.5</text>
<text class="cb" x="1821" y="1007">235.6</text>
<text class="cb" x="1821" y="1056">223.8</text>
<text class="cb" x="1821" y="1105">211.9</text>
<text class="cb" x="1821" y="1154">200.0</text>
</svg>
</body></html>
